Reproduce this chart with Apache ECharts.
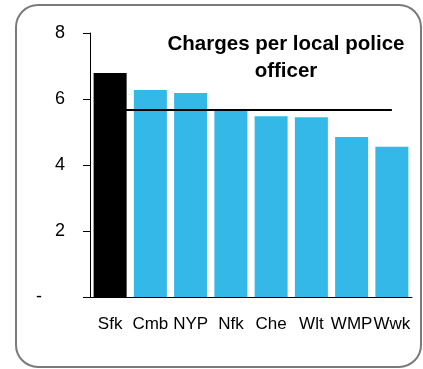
<!DOCTYPE html>
<html>
<head>
<meta charset="utf-8">
<script src="https://cdn.jsdelivr.net/npm/echarts@6/dist/echarts.min.js"></script>
<style>
  html, body { margin: 0; padding: 0; background: #fff; }
  #chart { width: 423px; height: 369px; }
</style>
</head>
<body>
<div id="chart"></div>
<script>
"use strict";

var categories = ["Sfk", "Cmb", "NYP", "Nfk", "Che", "Wlt", "WMP", "Wwk"];
var charges = [6.79, 6.27, 6.18, 5.7, 5.48, 5.45, 4.85, 4.55];
var average = [5.67, 5.67, 5.67, 5.67, 5.67, 5.67, 5.67, 5.67];
var yTicks = [0, 2, 4, 6, 8];

var chart = echarts.init(document.getElementById("chart"));

chart.setOption({
  animation: false,
  textStyle: { fontFamily: "Liberation Sans, Arial, sans-serif" },
  title: {
    text: "Charges per local police\nofficer",
    left: 281,
    top: 26,
    textAlign: "center",
    textStyle: {
      fontSize: 20.5,
      fontWeight: "bold",
      color: "#000",
      lineHeight: 27,
      align: "center",
    },
  },
  graphic: [
    {
      type: "rect",
      shape: { x: 16, y: 5, width: 405, height: 362, r: 22 },
      style: { fill: "none", stroke: "#7a7a7a", lineWidth: 2 },
      silent: true,
      z: -1,
    },
  ],
  grid: { left: 90, right: 11, top: 33, bottom: 72 },
  xAxis: {
    type: "category",
    data: categories,
    axisLine: { lineStyle: { color: "#000", width: 1 } },
    axisTick: { show: false },
    axisLabel: { fontSize: 17, color: "#000", margin: 19, interval: 0 },
  },
  yAxis: {
    type: "value",
    min: yTicks[0],
    max: yTicks[yTicks.length - 1],
    interval: 2,
    splitLine: { show: false },
    axisLine: { show: true, lineStyle: { color: "#000", width: 1 } },
    axisTick: { show: true, length: 7, lineStyle: { color: "#000" } },
    axisLabel: {
      fontSize: 18,
      color: "#000",
      margin: 25,
      formatter: function (v) {
        return v === 0 ? "{d|-}" : String(v);
      },
      rich: { d: { fontSize: 18, color: "#000", padding: [0, 23, 0, 0] } },
    },
  },
  series: [
    {
      name: "Charges",
      type: "bar",
      barCategoryGap: "18%",
      z: 2,
      data: charges.map(function (v, i) {
        return { value: v, itemStyle: { color: i === 0 ? "#000000" : "#33b8e8" } };
      }),
    },
    {
      name: "Average",
      type: "line",
      data: average,
      symbol: "none",
      z: 3,
      lineStyle: { color: "#000", width: 2 },
    },
  ],
});
</script>
</body>
</html>
